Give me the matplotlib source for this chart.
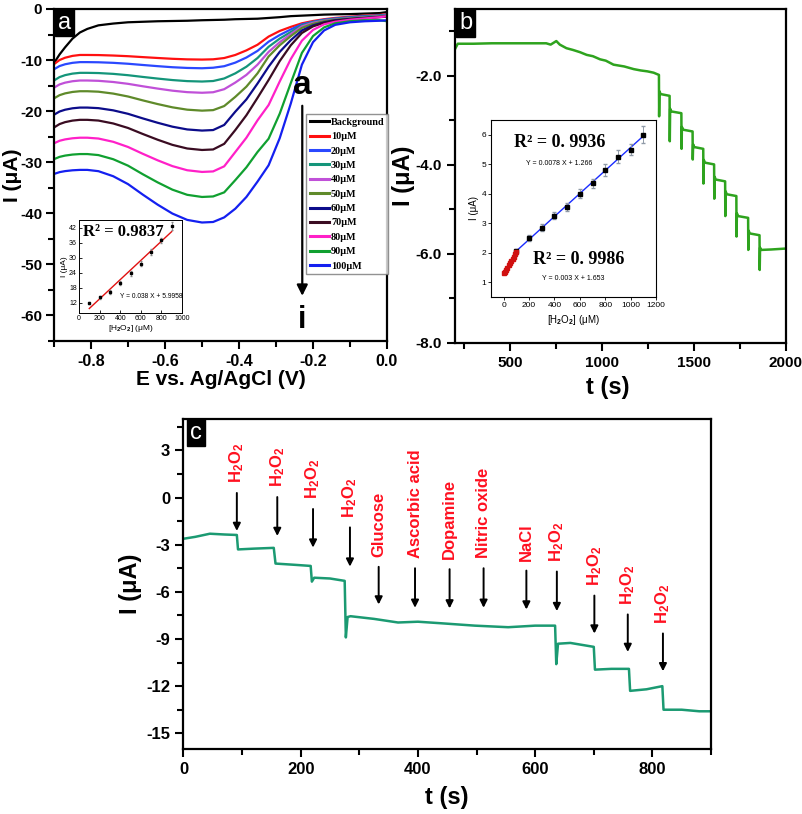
import numpy as np
import matplotlib
matplotlib.use("Agg")
import matplotlib.pyplot as plt
from matplotlib.ticker import MultipleLocator

plt.rcParams['font.family'] = ['Liberation Sans', 'DejaVu Sans']
plt.rcParams['font.weight'] = 'bold'
plt.rcParams['mathtext.fontset'] = 'custom'
plt.rcParams['mathtext.rm'] = 'Liberation Sans'
plt.rcParams['mathtext.bf'] = 'Liberation Sans:bold'

# ---------------------------------------------------------------------------
# Panel a: CV curves
# ---------------------------------------------------------------------------
cv_E = [-0.9, -0.885, -0.87, -0.85, -0.83, -0.81, -0.78, -0.74, -0.70, -0.66,
        -0.62, -0.58, -0.54, -0.50, -0.47, -0.44, -0.41, -0.38, -0.35, -0.32,
        -0.29, -0.26, -0.23, -0.20, -0.17, -0.14, -0.10, -0.06, -0.02, 0.0]
cv_labels = ["Background", "10μM", "20μM", "30μM", "40μM", "50μM",
             "60μM", "70μM", "80μM", "90μM", "100μM"]
cv_colors = ["#000000", "#ff1010", "#2a48ff", "#14957a", "#c050d8", "#5f8a2a",
             "#0c0c8a", "#3a0c22", "#ff20c8", "#10a030", "#1420f0"]
cv_bg = [-10.6, -8.9, -7.5, -5.8, -4.6, -3.9, -3.2, -2.85, -2.6, -2.5,
         -2.4, -2.35, -2.3, -2.2, -2.15, -2.1, -2.0, -1.95, -1.9, -1.75,
         -1.6, -1.4, -1.3, -1.2, -1.1, -1.05, -1.0, -0.9, -0.8, -0.6]
cv_10 = [-10.8, -9.99, -9.54, -9.18, -9.0, -9.0, -9.02, -9.11, -9.24, -9.42,
         -9.59, -9.75, -9.86, -9.9, -9.85, -9.6, -9.0, -8.1, -7.0, -5.4,
         -4.3, -3.5, -2.8, -2.35, -2.0, -1.75, -1.5, -1.3, -1.15, -1.0]
cv_20 = [-11.8, -11.17, -10.82, -10.54, -10.4, -10.4, -10.43, -10.54, -10.72, -10.96,
         -11.19, -11.4, -11.54, -11.6, -11.5, -11.2, -10.5, -9.5, -8.2, -6.4,
         -5.1, -4.0, -3.0, -2.5, -2.1, -1.85, -1.6, -1.4, -1.25, -1.1]
cv_30 = [-14.0, -13.33, -12.95, -12.65, -12.5, -12.5, -12.54, -12.7, -12.96, -13.3,
         -13.62, -13.91, -14.12, -14.2, -14.1, -13.6, -12.6, -11.3, -9.6, -7.4,
         -5.8, -4.5, -3.2, -2.6, -2.2, -1.95, -1.7, -1.5, -1.3, -1.2]
cv_40 = [-15.4, -14.77, -14.42, -14.14, -14.0, -14.0, -14.06, -14.29, -14.65, -15.13,
         -15.58, -15.99, -16.28, -16.4, -16.3, -15.7, -14.4, -12.9, -10.9, -8.4,
         -6.5, -4.9, -3.4, -2.7, -2.3, -2.05, -1.8, -1.6, -1.4, -1.3]
cv_50 = [-17.5, -16.87, -16.52, -16.24, -16.1, -16.1, -16.19, -16.56, -17.13, -17.89,
         -18.61, -19.25, -19.71, -19.9, -19.8, -19.0, -17.2, -15.2, -12.6, -9.3,
         -7.1, -5.3, -3.7, -2.9, -2.4, -2.1, -1.85, -1.65, -1.45, -1.4]
cv_60 = [-20.7, -20.07, -19.72, -19.44, -19.3, -19.3, -19.41, -19.84, -20.52, -21.42,
         -22.27, -23.04, -23.58, -23.8, -23.7, -22.7, -20.1, -17.7, -14.6, -11.3,
         -8.4, -6.1, -4.2, -3.2, -2.6, -2.2, -1.95, -1.75, -1.55, -1.5]
cv_70 = [-23.2, -22.53, -22.15, -21.85, -21.7, -21.7, -21.84, -22.41, -23.29, -24.47,
         -25.59, -26.6, -27.31, -27.6, -27.5, -26.4, -23.7, -20.8, -17.4, -13.9,
         -10.2, -7.1, -4.7, -3.4, -2.7, -2.3, -2.0, -1.8, -1.6, -1.5]
cv_80 = [-26.3, -25.8, -25.53, -25.31, -25.2, -25.2, -25.36, -26.0, -27.01, -28.35,
         -29.62, -30.76, -31.57, -31.9, -31.8, -30.8, -28.0, -25.2, -21.8, -18.8,
         -14.2, -9.8, -6.2, -4.1, -3.0, -2.5, -2.1, -1.85, -1.6, -1.4]
cv_90 = [-29.4, -28.95, -28.7, -28.5, -28.4, -28.4, -28.6, -29.41, -30.67, -32.35,
         -33.94, -35.37, -36.38, -36.8, -36.7, -35.9, -33.5, -31.0, -28.0, -25.4,
         -20.5, -14.5, -8.6, -5.3, -3.6, -2.8, -2.4, -2.2, -2.2, -2.4]
cv_100 = [-32.3, -31.94, -31.74, -31.58, -31.5, -31.5, -31.75, -32.74, -34.28, -36.34,
          -38.3, -40.05, -41.29, -41.8, -41.7, -40.8, -39.1, -36.8, -33.8, -30.6,
          -25.3, -18.5, -10.9, -6.5, -4.2, -3.1, -2.6, -2.4, -2.3, -2.2]

# inset a: calibration
ins_a_x = [100, 200, 300, 400, 500, 600, 700, 800, 900]
ins_a_y = [12.0, 14.3, 16.5, 19.8, 23.8, 27.6, 32.3, 37.0, 42.5]
ins_a_err = [0.5, 0.6, 0.8, 0.8, 1.0, 1.0, 1.2, 1.0, 1.6]

# ---------------------------------------------------------------------------
# Panel b: amperometric steps
# ---------------------------------------------------------------------------
b_t = [200, 215, 300, 400, 500, 600, 696, 720, 751, 770, 806, 842, 880, 916,
       950, 989, 1020, 1062, 1120, 1172, 1210, 1246, 1280, 1309,
       1310, 1312, 1318, 1367,
       1368, 1370, 1376, 1431,
       1432, 1434, 1440, 1492,
       1493, 1495, 1501, 1550,
       1551, 1553, 1559, 1609,
       1610, 1612, 1618, 1669,
       1670, 1672, 1678, 1730,
       1731, 1733, 1739, 1794,
       1795, 1797, 1803, 1856,
       1857, 1859, 1865, 1920, 1996]
b_I = [-1.40, -1.28, -1.28, -1.27, -1.27, -1.27, -1.27, -1.30, -1.22, -1.30,
       -1.38, -1.42, -1.47, -1.53, -1.56, -1.63, -1.66, -1.75, -1.79, -1.85,
       -1.88, -1.90, -1.93, -1.98,
       -2.91, -2.35, -2.41, -2.45,
       -3.47, -2.74, -2.80, -2.84,
       -3.64, -3.15, -3.21, -3.25,
       -3.88, -3.54, -3.60, -3.64,
       -4.42, -3.89, -3.95, -3.99,
       -4.76, -4.27, -4.33, -4.37,
       -5.15, -4.60, -4.66, -4.70,
       -5.61, -5.09, -5.15, -5.19,
       -5.91, -5.48, -5.54, -5.58,
       -6.36, -5.86, -5.91, -5.90, -5.88]

# inset b: calibration (two linear ranges)
ins_b_lo_x = [0, 10, 20, 30, 40, 50, 60, 70, 80, 90, 100]
ins_b_lo_y = [1.30, 1.36, 1.43, 1.50, 1.57, 1.65, 1.72, 1.80, 1.87, 1.95, 2.03]
ins_b_x = [100, 200, 300, 400, 500, 600, 700, 800, 900, 1000, 1100]
ins_b_y = [2.05, 2.50, 2.85, 3.25, 3.55, 4.00, 4.35, 4.80, 5.25, 5.50, 6.00]
ins_b_err = [0.08, 0.10, 0.12, 0.12, 0.13, 0.15, 0.16, 0.20, 0.22, 0.20, 0.28]

# ---------------------------------------------------------------------------
# Panel c: interference test
# ---------------------------------------------------------------------------
c_t = [0, 20, 45, 70, 91, 93, 120, 154, 157, 190, 217, 219, 223, 250, 275,
       277, 280, 285, 325, 366, 400, 440, 497, 554, 600, 634, 636, 639, 660,
       700, 702, 730, 760, 762, 790, 817, 819, 850, 880, 900]
c_I = [-2.62, -2.50, -2.30, -2.35, -2.38, -3.30, -3.25, -3.20, -4.20, -4.28,
       -4.35, -5.35, -5.10, -5.15, -5.30, -8.90, -7.60, -7.55, -7.72, -7.95,
       -7.90, -8.00, -8.15, -8.25, -8.15, -8.15, -10.60, -9.30, -9.25, -9.50,
       -10.95, -10.90, -10.90, -12.30, -12.20, -12.00, -13.50, -13.50, -13.60,
       -13.60]

c_arrow_t = [91, 160, 221, 284, 333, 395, 454, 512, 585, 637, 701, 758, 818]
c_arrow_top = [0.47, 0.21, -0.55, -1.72, -4.23, -4.32, -4.38, -4.32, -4.47,
               -4.53, -6.06, -7.26, -8.47]
c_arrow_tip = [-2.30, -2.62, -3.36, -4.57, -6.98, -7.19, -7.23, -7.19, -7.30,
               -7.40, -8.83, -10.00, -11.23]
c_labels = [r'$\mathbf{H_2O_2}$'] * 4 + ['Glucose', 'Ascorbic acid', 'Dopamine',
                                         'Nitric oxide', 'NaCl'] + [r'$\mathbf{H_2O_2}$'] * 4

W, H = 803, 814


def fig_rect(left, top, right, bottom):
    return [left / W, 1 - bottom / H, (right - left) / W, (bottom - top) / H]


def style_main(ax, size):
    for s in ax.spines.values():
        s.set_linewidth(1.6)
    ax.tick_params(which='both', direction='out', width=1.5, labelsize=size,
                   top=False, right=False)
    ax.tick_params(which='major', length=6)
    ax.tick_params(which='minor', length=4)
    for lab in ax.get_xticklabels() + ax.get_yticklabels():
        lab.set_fontweight('bold')


def panel_letter(ax, letter):
    ax.text(0.012, 0.992, letter, transform=ax.transAxes, ha='left', va='top',
            color='white', fontsize=17, fontweight='normal',
            bbox=dict(boxstyle='square,pad=0.12', fc='black', ec='black'),
            zorder=10)


fig = plt.figure(figsize=(W / 100, H / 100), dpi=100)

# ---------------- panel a ----------------
ax_a = fig.add_axes(fig_rect(54, 9, 387, 341))
cv_all = [cv_bg, cv_10, cv_20, cv_30, cv_40, cv_50, cv_60, cv_70, cv_80, cv_90, cv_100]
for vals, col, lab in zip(cv_all, cv_colors, cv_labels):
    ax_a.plot(cv_E, vals, color=col, lw=1.6, label=lab)
ax_a.set_xlim(-0.9, 0.0)
ax_a.set_ylim(-65, 0)
ax_a.xaxis.set_minor_locator(MultipleLocator(0.1))
ax_a.yaxis.set_minor_locator(MultipleLocator(5))
ax_a.set_xticks([-0.8, -0.6, -0.4, -0.2, 0.0])
ax_a.set_xticklabels(['-0.8', '-0.6', '-0.4', '-0.2', '0.0'])
ax_a.set_yticks([0, -10, -20, -30, -40, -50, -60])
ax_a.set_yticklabels(['0', '-10', '-20', '-30', '-40', '-50', '-60'])
style_main(ax_a, 11.5)
ax_a.tick_params(axis='y', labelsize=11, pad=2.5)
ax_a.set_xlabel('E vs. Ag/AgCl (V)', fontsize=15, fontweight='bold')
ax_a.xaxis.set_label_coords(0.5, -0.088)
ax_a.set_ylabel('I (μA)', fontsize=15, fontweight='bold')
ax_a.yaxis.set_label_coords(-0.097, 0.5)
leg = ax_a.legend(loc='upper left', bbox_to_anchor=(0.757, 0.683), frameon=True,
                  fancybox=False, edgecolor='#777777', handlelength=1.9,
                  handletextpad=0.2, labelspacing=0.52, borderpad=0.35,
                  borderaxespad=0, prop={'family': 'Liberation Serif',
                                         'weight': 'bold', 'size': 7.3})
leg.get_frame().set_linewidth(1.0)
for h in leg.get_lines():
    h.set_linewidth(2.2)
ax_a.annotate('', xy=(-0.229, -56.7), xytext=(-0.229, -18.4),
              arrowprops=dict(arrowstyle='-|>', color='black', lw=1.6,
                              mutation_scale=16))
ax_a.text(-0.229, -15.0, 'a', ha='center', va='center', fontsize=24,
          fontweight='bold')
ax_a.text(-0.229, -60.8, 'i', ha='center', va='center', fontsize=22,
          fontweight='bold')
panel_letter(ax_a, 'a')

# inset a
ia = fig.add_axes(fig_rect(79, 220, 182, 313))
fit_a = np.polyfit(ins_a_x, ins_a_y, 1)
ia.plot([ins_a_x[0], ins_a_x[-1]], np.polyval(fit_a, [ins_a_x[0], ins_a_x[-1]]),
        color='#e01010', lw=1.0)
ia.errorbar(ins_a_x, ins_a_y, yerr=ins_a_err, fmt='s', ms=2, color='black',
            ecolor='#888888', elinewidth=0.6, capsize=1)
ia.set_xlim(0, 1000)
ia.set_ylim(8, 45)
ia.set_xticks([0, 200, 400, 600, 800, 1000])
ia.set_yticks([12, 18, 24, 30, 36, 42])
ia.tick_params(direction='in', length=2, width=0.6, labelsize=5, pad=1.5)
for lab in ia.get_xticklabels() + ia.get_yticklabels():
    lab.set_fontweight('normal')
for s in ia.spines.values():
    s.set_linewidth(0.7)
ia.set_xlabel('[H$_2$O$_2$] (μM)', fontsize=6, fontweight='normal', labelpad=1)
ia.set_ylabel('I (μA)', fontsize=6, fontweight='normal', labelpad=1)
ia.text(0.04, 0.87, 'R² = 0.9837', transform=ia.transAxes, ha='left', va='center',
        fontsize=12, fontweight='bold', family='Liberation Serif')
ia.text(0.40, 0.175, 'Y = 0.038 X + 5.9958', transform=ia.transAxes, ha='left',
        va='center', fontsize=4.8, fontweight='normal')

# ---------------- panel b ----------------
ax_b = fig.add_axes(fig_rect(455, 9, 786, 343))
ax_b.plot(b_t, b_I, color='#2ea31e', lw=1.8)
ax_b.set_xlim(200, 2000)
ax_b.set_ylim(-8.0, -0.5)
ax_b.set_xticks([500, 1000, 1500, 2000])
ax_b.xaxis.set_minor_locator(MultipleLocator(250))
ax_b.set_yticks([-2.0, -4.0, -6.0, -8.0])
ax_b.set_yticklabels(['-2.0', '-4.0', '-6.0', '-8.0'])
ax_b.yaxis.set_minor_locator(MultipleLocator(1.0))
style_main(ax_b, 11)
ax_b.set_xlabel('t (s)', fontsize=17, fontweight='bold')
ax_b.xaxis.set_label_coords(0.46, -0.1)
ax_b.set_ylabel('I (μA)', fontsize=17, fontweight='bold')
ax_b.yaxis.set_label_coords(-0.122, 0.5)
panel_letter(ax_b, 'b')

# inset b
ib = fig.add_axes(fig_rect(491, 120, 656, 297))
fit_b = np.polyfit(ins_b_x, ins_b_y, 1)
ib.plot([ins_b_x[0], ins_b_x[-1]], np.polyval(fit_b, [ins_b_x[0], ins_b_x[-1]]),
        color='#1a2cff', lw=1.0, zorder=2)
ib.errorbar(ins_b_x, ins_b_y, yerr=ins_b_err, fmt='s', ms=2.5, color='black',
            ecolor='#8f9aa8', elinewidth=0.7, capsize=1.2, zorder=3)
ib.plot(ins_b_lo_x, ins_b_lo_y, color='#d01010', lw=1.0, marker='s', ms=2.2,
        zorder=4)
ib.set_xlim(-100, 1200)
ib.set_ylim(0.5, 6.5)
ib.set_xticks([0, 200, 400, 600, 800, 1000, 1200])
ib.set_yticks([1, 2, 3, 4, 5, 6])
ib.tick_params(direction='out', length=2, width=0.6, labelsize=6, pad=1.5)
for lab in ib.get_xticklabels() + ib.get_yticklabels():
    lab.set_fontweight('normal')
for s in ib.spines.values():
    s.set_linewidth(0.8)
ib.set_xlabel('[H$_2$O$_2$] (μM)', fontsize=7, fontweight='normal', labelpad=3)
ib.set_ylabel('I (μA)', fontsize=7, fontweight='normal', labelpad=2)
ib.text(0.14, 0.872, 'R² = 0. 9936', transform=ib.transAxes, ha='left',
        va='center', fontsize=13, fontweight='bold', family='Liberation Serif')
ib.text(0.215, 0.755, 'Y = 0.0078 X + 1.266', transform=ib.transAxes, ha='left',
        va='center', fontsize=5, fontweight='normal')
ib.text(0.255, 0.213, 'R² = 0. 9986', transform=ib.transAxes, ha='left',
        va='center', fontsize=13, fontweight='bold', family='Liberation Serif')
ib.text(0.31, 0.106, 'Y = 0.003 X + 1.653', transform=ib.transAxes, ha='left',
        va='center', fontsize=5, fontweight='normal')

# ---------------- panel c ----------------
ax_c = fig.add_axes(fig_rect(183.5, 419, 711, 749))
ax_c.plot(c_t, c_I, color='#1b9a72', lw=1.8)
ax_c.set_xlim(0, 900)
ax_c.set_ylim(-16, 5)
ax_c.set_xticks([0, 200, 400, 600, 800])
ax_c.xaxis.set_minor_locator(MultipleLocator(100))
ax_c.set_yticks([3, 0, -3, -6, -9, -12, -15])
ax_c.set_yticklabels(['3', '0', '-3', '-6', '-9', '-12', '-15'])
ax_c.yaxis.set_minor_locator(MultipleLocator(1.5))
style_main(ax_c, 12)
ax_c.set_xlabel('t (s)', fontsize=17, fontweight='bold')
ax_c.xaxis.set_label_coords(0.5, -0.112)
ax_c.set_ylabel('I (μA)', fontsize=17, fontweight='bold')
ax_c.yaxis.set_label_coords(-0.078, 0.5)
for t, top, tip, lab in zip(c_arrow_t, c_arrow_top, c_arrow_tip, c_labels):
    ax_c.annotate('', xy=(t, tip), xytext=(t, top),
                  arrowprops=dict(arrowstyle='-|>', color='black', lw=1.4,
                                  mutation_scale=11))
    ax_c.text(t, top + 0.45, lab, rotation=90, ha='center', va='bottom',
              color='#ff1020', fontsize=12, fontweight='bold')
panel_letter(ax_c, 'c')

fig.savefig('out.png', dpi=100)
